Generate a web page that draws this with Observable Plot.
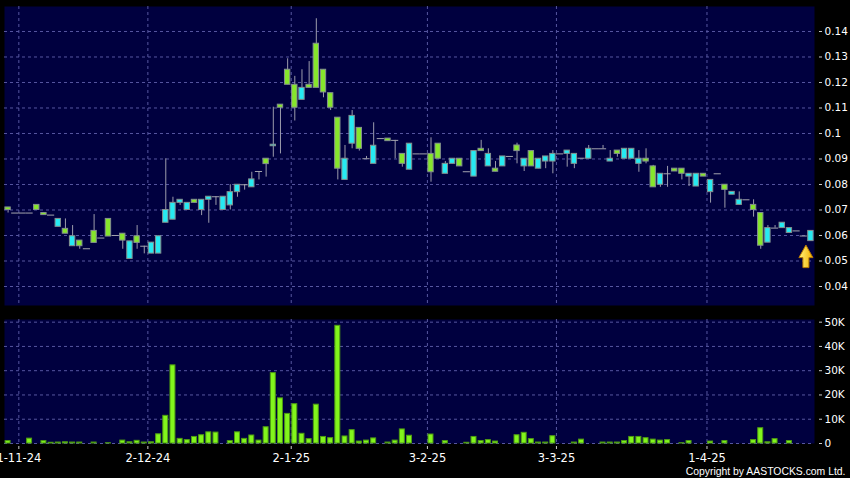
<!DOCTYPE html>
<html><head><meta charset="utf-8">
<script src="https://cdn.jsdelivr.net/npm/d3@7"></script>
<script src="https://cdn.jsdelivr.net/npm/@observablehq/plot@0.6"></script>
<style>
html,body{margin:0;padding:0;background:#000;}
#chart{width:850px;height:478px;background:#000;position:relative;overflow:hidden;}
#chart svg{display:block;}
</style></head><body><div id="chart"></div>
<script>
// Daily OHLC (HKD) and volume (thousand shares), one entry per trading session
const open = [
.071,.0688,.0688,.0688,.072,.0688,.068,.0634,.0626,.0558,
.058,.0548,.0618,.059,.0665,.060,.0607,.0508,.0597,.0558,
.0529,.0529,.065,.0662,.0728,.070,.074,.070,.074,.0752,
.070,.0718,.077,.0799,.0789,.0851,.0901,.095,.1113,.125,
.1191,.1132,.1191,.1352,.125,.1158,.1062,.0818,.096,.1022,
.0901,.0881,.098,.098,.0973,.092,.0858,.092,.092,.092,
.096,.0842,.0881,.0901,.085,.0831,.094,.0871,.0862,.0871,
.091,.0953,.0871,.0931,.0862,.089,.089,.092,.092,.0881,
.0903,.0901,.094,.094,.089,.0933,.0901,.0901,.0881,.0901,
.0871,.0799,.0842,.0862,.0862,.0831,.0792,.0842,.077,.0842,
.0799,.076,.072,.074,.072,.0688,.0572,.0629,.0629,.061,
.0618,.0598,.0578];
const high = [
.071,.0688,.0688,.0688,.072,.0688,.068,.0665,.0665,.0639,
.058,.0548,.0682,.059,.0665,.060,.0607,.0577,.0639,.0558,
.0572,.0597,.0901,.075,.074,.0728,.074,.074,.0752,.0752,
.0752,.0799,.0799,.0799,.0848,.0851,.0901,.1103,.1113,.1293,
.1224,.125,.1282,.145,.125,.1158,.1062,.0953,.109,.1022,
.091,.1042,.098,.098,.0973,.092,.096,.092,.092,.0983,
.096,.089,.0901,.0901,.085,.0931,.0973,.094,.089,.091,
.091,.0962,.0901,.0931,.0901,.091,.0933,.092,.0933,.092,
.0903,.0953,.094,.0953,.0933,.0933,.094,.094,.0933,.094,
.0875,.0842,.0871,.0862,.0862,.0842,.0842,.0842,.0818,.0842,
.0799,.0771,.0771,.074,.074,.0688,.0639,.0639,.065,.0629,
.0618,.0598,.0618];
const low = [
.0688,.0688,.0688,.0688,.070,.068,.068,.0634,.0607,.0558,
.0546,.0548,.0571,.059,.0596,.060,.0546,.0508,.0546,.0528,
.0529,.0529,.065,.0662,.0718,.070,.0728,.0678,.0648,.0718,
.070,.070,.075,.0778,.0789,.0818,.0829,.0907,.092,.1191,
.1049,.1132,.1179,.1179,.114,.109,.0818,.0818,.094,.0931,
.0901,.0881,.098,.097,.0901,.0868,.0858,.092,.092,.0809,
.0901,.0842,.0881,.0871,.085,.0831,.0931,.0871,.085,.0871,
.091,.0881,.0851,.0871,.0862,.0862,.0842,.092,.0868,.0862,
.0903,.0901,.094,.094,.089,.0907,.0901,.0901,.0848,.0881,
.0789,.0789,.0789,.0851,.0818,.0792,.0792,.0831,.0727,.0842,
.0707,.076,.072,.074,.0672,.0546,.0572,.0629,.0629,.061,
.0618,.0598,.0578];
const close = [
.070,.0688,.0688,.0688,.070,.068,.068,.0665,.0607,.0597,
.0558,.0548,.0571,.059,.0596,.060,.058,.0577,.0571,.0558,
.0572,.0597,.070,.0728,.074,.0728,.0728,.074,.0752,.0752,
.0752,.077,.0799,.0799,.082,.0851,.088,.0956,.1101,.1191,
.1101,.1179,.1179,.1179,.1161,.1101,.0862,.0901,.1069,.094,
.0901,.0952,.098,.097,.0973,.0881,.096,.092,.092,.0848,
.0901,.0881,.0901,.0871,.085,.0931,.0931,.092,.085,.091,
.091,.0931,.0901,.0871,.0901,.091,.092,.092,.0933,.092,
.0903,.094,.094,.094,.0901,.092,.094,.094,.0901,.089,
.0789,.0842,.0842,.0851,.0842,.0842,.0842,.0831,.0818,.0842,
.0779,.0771,.074,.074,.070,.056,.0629,.0629,.065,.0629,
.0618,.0598,.0618];
const volumeK = [
1,0,0,2,0,1,0.3,0.4,0.5,0.4,
0.4,0,0.4,0,0.1,0,1.2,0.5,1.1,0.4,
0.5,3.8,11.4,32.2,1.9,1.4,2.7,3.4,4.6,4.5,
0,1,4.6,1.9,3.3,1.2,6.7,29,18.6,12.2,
16.2,4,1.8,16,2.7,2.2,48.5,2.9,5.5,0.8,
1.2,2.1,0,0.4,1.2,5.8,3.2,0,0,3.7,
0,1,0,0,0.3,2.7,1,1.4,0.8,0,
0,3.4,4.4,1.8,0.4,0.4,3.0,0,0,0.4,
1.6,0,0,0.4,0.4,0.4,1,2.7,2.7,2.2,
1.6,1.2,1.4,0,0.1,1,0,0,0.8,0,
1,0,0,0,1.4,6.3,0.5,1.8,0,1,
0,0,0];

// x-axis month labels and the session index they start on
const monthLabels = ["1-11-24","2-12-24","2-1-25","3-2-25","3-3-25","1-4-25"];
const monthIndex = [2, 20, 40, 59, 77, 98];
const priceTicks = [0.04,0.05,0.06,0.07,0.08,0.09,0.10,0.11,0.12,0.13,0.14];
const volumeTicks = [0,10000,20000,30000,40000,50000];

const N = open.length;
const rows = open.map((o, i) => ({i, o, h: high[i], l: low[i], c: close[i], v: volumeK[i] * 1000}));
const downBodies = rows.filter(d => d.c < d.o);
const upBodies = rows.filter(d => d.c > d.o);
const dojis = rows.filter(d => d.c === d.o);
const monthPos = monthIndex.map(i => i - 0.5);
const labelAt = new Map(monthPos.map((p, k) => [p, monthLabels[k]]));

const GREEN = "#86e62c", CYAN = "#26eaf2", VOLGREEN = "#82f51c";
const PANEL = "#00003f", GRID = "#5656a0";
const base = {
  width: 850, marginLeft: 4, marginRight: 36,
  style: {background: "#000", color: "#fff", fontFamily: "DejaVu Sans", fontSize: "10.5px"}
};
const xDom = [-0.5, N - 0.5];

function lastArrow(index, scales) {
  const i = N - 1;
  const tx = scales.x(i) - 4.5, ty = scales.y(low[i]) + 4.5;
  const g = d3.create("svg:g");
  const grad = g.append("defs").append("linearGradient").attr("id", "arrowGrad")
    .attr("x1", 0).attr("x2", 1).attr("y1", 0).attr("y2", 0);
  grad.append("stop").attr("offset", "0%").attr("stop-color", "#fff37c");
  grad.append("stop").attr("offset", "100%").attr("stop-color", "#f2b000");
  const p = d3.path();
  p.moveTo(tx, ty); p.lineTo(tx + 7, ty + 12.5); p.lineTo(tx + 3, ty + 12.5);
  p.lineTo(tx + 3, ty + 22.5); p.lineTo(tx - 3, ty + 22.5); p.lineTo(tx - 3, ty + 12.5);
  p.lineTo(tx - 7, ty + 12.5); p.closePath();
  g.append("path").attr("d", p.toString()).attr("fill", "url(#arrowGrad)")
    .attr("stroke", "#b97a00").attr("stroke-width", 1).attr("stroke-linejoin", "round");
  return g.node();
}

const bodyOpts = (fill) => ({
  x1: d => d.i - 0.5, x2: d => d.i + 0.5, insetLeft: 0.9, insetRight: 0.9,
  y1: "o", y2: "c", fill, stroke: "#84908f", strokeWidth: 1
});

const price = Plot.plot({
  ...base, height: 312, marginTop: 6, marginBottom: 7,
  x: {type: "linear", domain: xDom, axis: null},
  y: {domain: [0.03255, 0.1498], label: null},
  marks: [
    Plot.frame({fill: PANEL, stroke: null}),
    Plot.gridY(priceTicks, {stroke: GRID, strokeOpacity: 1, strokeDasharray: "3,3"}),
    Plot.gridX(monthPos, {stroke: GRID, strokeOpacity: 1, strokeDasharray: "3,3"}),
    Plot.ruleX(rows, {x: "i", y1: "l", y2: "h", stroke: "#9c9cac", strokeWidth: 1}),
    Plot.rect(downBodies, bodyOpts(GREEN)),
    Plot.rect(upBodies, bodyOpts(CYAN)),
    Plot.ruleY(dojis, {x1: d => d.i - 0.5, x2: d => d.i + 0.5, y: "c", stroke: "#a4a4ae", strokeWidth: 1}),
    Plot.axisY(priceTicks, {anchor: "right", tickSize: 3, tickPadding: 3, dx: 4, label: null,
      tickFormat: d => String(+d.toFixed(2)), stroke: "#cccccc", fill: "#ffffff"}),
    lastArrow
  ]
});

const volume = Plot.plot({
  ...base, height: 166, marginTop: 7, marginBottom: 35,
  x: {type: "linear", domain: xDom, label: null},
  y: {domain: [0, 51100], label: null},
  marks: [
    Plot.frame({fill: PANEL, stroke: null}),
    Plot.gridY(volumeTicks, {stroke: GRID, strokeOpacity: 1, strokeDasharray: "3,3"}),
    Plot.gridX(monthPos, {stroke: GRID, strokeOpacity: 1, strokeDasharray: "3,3"}),
    Plot.rect(rows.filter(d => d.v > 0), {
      x1: d => d.i - 0.5, x2: d => d.i + 0.5, insetLeft: 1.1, insetRight: 1.1,
      y1: 0, y2: "v", fill: VOLGREEN, stroke: "#4e9c12", strokeWidth: 1
    }),
    Plot.axisY(volumeTicks, {anchor: "right", tickSize: 3, tickPadding: 3, dx: 4, label: null,
      tickFormat: d => d === 0 ? "0" : (d / 1000) + "K", stroke: "#cccccc", fill: "#ffffff"}),
    Plot.axisX(monthPos, {anchor: "bottom", tickSize: 3, tickPadding: 4, dy: 3, label: null,
      tickFormat: d => labelAt.get(d), fontSize: 11.5, stroke: "#cccccc", fill: "#ffffff"}),
    Plot.text(["Copyright by AASTOCKS.com Ltd."], {
      frameAnchor: "bottom-right", dx: 31, dy: 28.5, textAnchor: "end", lineAnchor: "middle",
      fontFamily: "Liberation Sans", fontSize: 10.4, fill: "#ffffff"
    })
  ]
});

const root = document.getElementById("chart");
root.append(price, volume);
</script>
</body></html>
